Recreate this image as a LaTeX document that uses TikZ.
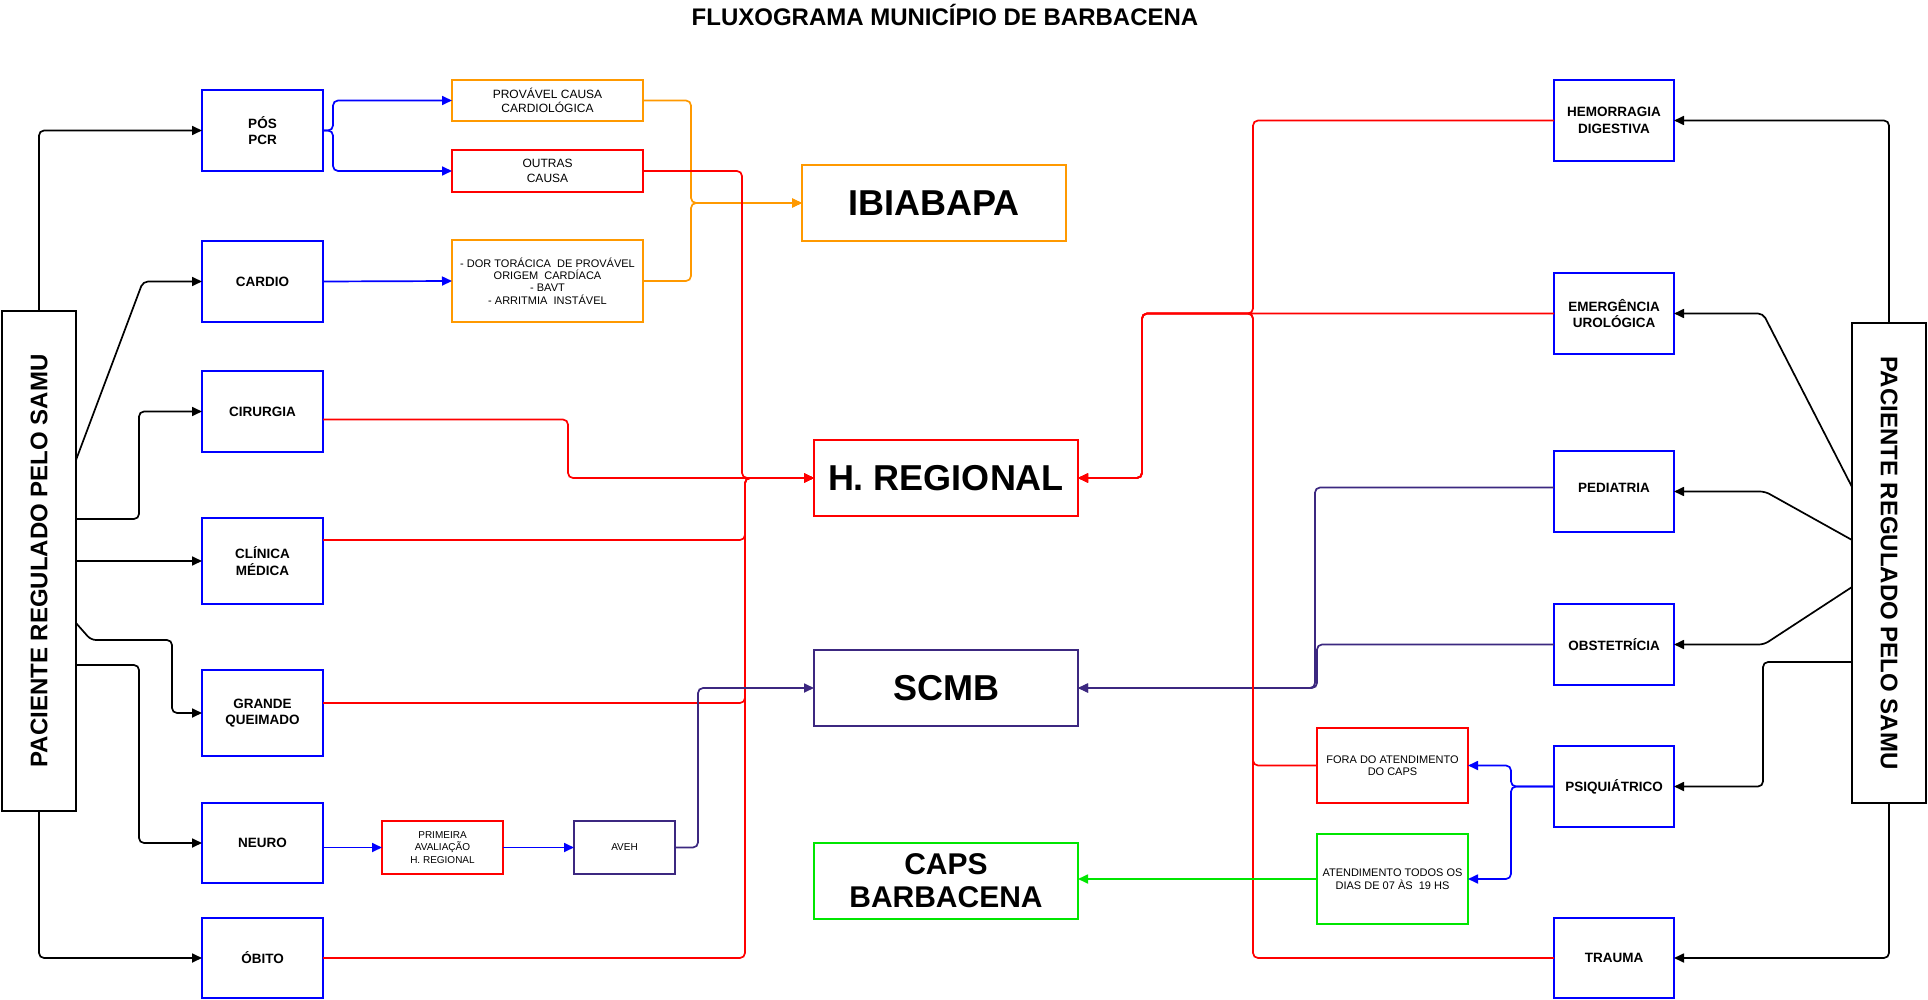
\documentclass[tikz,border=0pt]{standalone}
\usepackage{fontspec}
\usepackage{graphicx}
\setmainfont{Liberation Sans}
\usetikzlibrary{arrows.meta,calc}
\definecolor{cblue}{RGB}{0,0,255}
\definecolor{cred}{RGB}{255,0,0}
\definecolor{corange}{RGB}{255,153,0}
\definecolor{cgreen}{RGB}{0,230,0}
\definecolor{cpurple}{RGB}{60,40,128}
\begin{document}
\begin{tikzpicture}[x=1pt,y=-1pt,
  box/.style={draw,line width=2pt,inner sep=0pt,outer sep=0pt,align=center,text=black},
  bbox/.style={box,draw=cblue,font=\fontsize{13.5}{16.5}\selectfont\bfseries},
  sbox/.style={box,font=\fontsize{12}{14.5}\selectfont},
  tbox/.style={box,font=\fontsize{10}{12.2}\selectfont},
  bigbox/.style={box,minimum width=264pt,minimum height=76pt,font=\fontsize{36}{37}\selectfont\bfseries},
  samubox/.style={box,draw=black,line width=2.5pt,font=\fontsize{24}{28}\selectfont\bfseries},
  conn/.style={line width=1.7pt,rounded corners=5pt,-{Triangle[length=10pt,width=9pt]}},
  blk/.style={conn,draw=black},
  blu/.style={conn,draw=cblue},
  rd/.style={conn,draw=cred},
  org/.style={conn,draw=corange},
  pur/.style={conn,draw=cpurple},
  grn/.style={conn,draw=cgreen}
]
\useasboundingbox (0,0) rectangle (1928,1000);

\node[font=\fontsize{24}{28}\selectfont\bfseries] (title) at (945,15) {FLUXOGRAMA MUNICÍPIO DE BARBACENA};

% left SAMU
\node[samubox,minimum width=74pt,minimum height=500pt] (samuL) at (39,561) {\rotatebox{90}{PACIENTE REGULADO PELO SAMU}};

% left blue column
\node[bbox,minimum width=121pt,minimum height=81pt] (pos) at (262.5,130.5) {PÓS\\PCR};
\node[bbox,minimum width=121pt,minimum height=81pt] (cardio) at (262.5,281.5) {CARDIO};
\node[bbox,minimum width=121pt,minimum height=81pt] (cirurgia) at (262.5,411.5) {CIRURGIA};
\node[bbox,minimum width=121pt,minimum height=86pt] (clinica) at (262.5,561) {CLÍNICA\\MÉDICA};
\node[bbox,minimum width=121pt,minimum height=86pt] (grande) at (262.5,713) {GRANDE\\QUEIMADO};
\node[bbox,minimum width=121pt,minimum height=80pt] (neuro) at (262.5,843) {NEURO};
\node[bbox,minimum width=121pt,minimum height=80pt] (obito) at (262.5,958) {ÓBITO};

% small boxes
\node[sbox,draw=corange,minimum width=191pt,minimum height=41pt] (provavel) at (547.5,100.5) {PROVÁVEL CAUSA\\CARDIOLÓGICA};
\node[sbox,draw=cred,minimum width=191pt,minimum height=42pt] (outras) at (547.5,171) {OUTRAS\\CAUSA};
\node[box,font=\fontsize{11}{12.2}\selectfont,draw=corange,minimum width=191pt,minimum height=82pt] (dor) at (547.5,281) {- DOR TORÁCICA\ \ DE PROVÁVEL\\ORIGEM\ \ CARDÍACA\\- BAVT\\- ARRITMIA\ \ INSTÁVEL};
\node[tbox,draw=cred,minimum width=121pt,minimum height=53pt] (primeira) at (442.5,847.5) {PRIMEIRA\\AVALIAÇÃO\\H. REGIONAL};
\node[tbox,draw=cpurple,minimum width=101pt,minimum height=53pt] (aveh) at (624.5,847.5) {AVEH};

% central boxes
\node[bigbox,draw=corange] (ibia) at (934,203) {IBIABAPA};
\node[bigbox,draw=cred] (hreg) at (946,478) {H. REGIONAL};
\node[bigbox,draw=cpurple] (scmb) at (946,688) {SCMB};
\node[bigbox,draw=cgreen,font=\fontsize{30}{33}\selectfont\bfseries] (caps) at (946,881) {CAPS\\BARBACENA};

% right blue column
\node[bbox,minimum width=120pt,minimum height=81pt] (hemo) at (1614,120.5) {HEMORRAGIA\\DIGESTIVA};
\node[bbox,minimum width=120pt,minimum height=81pt] (emerg) at (1614,313.5) {EMERGÊNCIA\\UROLÓGICA};
\node[bbox,minimum width=120pt,minimum height=81pt] (pedia) at (1614,491.5) {\raisebox{8pt}{PEDIATRIA}};
\node[bbox,minimum width=120pt,minimum height=81pt] (obst) at (1614,644.5) {OBSTETRÍCIA};
\node[bbox,minimum width=120pt,minimum height=81pt] (psiq) at (1614,786.5) {PSIQUIÁTRICO};
\node[bbox,minimum width=120pt,minimum height=80pt] (trauma) at (1614,958) {TRAUMA};

% right small boxes
\node[box,draw=cred,font=\fontsize{11}{12.5}\selectfont,minimum width=151pt,minimum height=75pt] (fora) at (1392.5,765.5) {FORA DO ATENDIMENTO\\DO CAPS};
\node[box,draw=cgreen,font=\fontsize{11}{12.5}\selectfont,minimum width=151pt,minimum height=90pt] (atend) at (1392.5,879) {ATENDIMENTO TODOS OS\\DIAS DE 07 ÀS\ \ 19 HS};

% right SAMU
\node[samubox,minimum width=74pt,minimum height=480pt] (samuR) at (1889,563) {\rotatebox{-90}{PACIENTE REGULADO PELO SAMU}};

% ---- left SAMU connectors
\draw[blk] (samuL.north) |- (pos.west);
\draw[blk] ([yshift=-149pt]samuL.north east) -- ([xshift=-59pt]cardio.west) -- (cardio.west);
\draw[blk] ([yshift=-208pt]samuL.north east) -- ++(63,0) |- (cirurgia.west);
\draw[blk] (samuL.east) -- (clinica.west);
\draw[blk] ([yshift=-312pt]samuL.north east) -- ++(15,17) -- ++(81,0) |- (grande.west);
\draw[blk] ([yshift=-354pt]samuL.north east) -- ++(63,0) |- (neuro.west);
\draw[blk] (samuL.south) |- (obito.west);

% ---- blue
\draw[blu] (pos.east) -- ++(10,0) |- (provavel.west);
\draw[blu] (pos.east) -- ++(10,0) |- (outras.west);
\draw[blu] (cardio.east) -- (dor.west);
\draw[blu] (neuro.east |- primeira.west) -- (primeira.west);
\draw[blu] (primeira.east) -- (aveh.west);

% ---- orange
\draw[org] (provavel.east) -| ([xshift=-111pt]ibia.west) -- (ibia.west);
\draw[org] (dor.east) -| ([xshift=-111pt]ibia.west) -- (ibia.west);

% ---- red left
\draw[rd] (outras.east) -| ([xshift=-72pt]hreg.west) -- (hreg.west);
\draw[rd] ([yshift=-8pt]cirurgia.east) -| ([xshift=-246pt]hreg.west) -- (hreg.west);
\draw[rd] ([yshift=21pt]clinica.east) -| ([xshift=-69pt]hreg.west) -- (hreg.west);
\draw[rd] ([yshift=10pt]grande.east) -| ([xshift=-69pt]hreg.west) -- (hreg.west);
\draw[rd] (obito.east) -| ([xshift=-69pt]hreg.west) -- (hreg.west);

% ---- purple
\draw[pur] (aveh.east) -| ([xshift=-116pt]scmb.west) -- (scmb.west);
\draw[pur] ([yshift=4pt]pedia.west) -| ([xshift=237pt]scmb.east) -- (scmb.east);
\draw[pur] (obst.west) -| ([xshift=239pt]scmb.east) -- (scmb.east);

% ---- red right
\coordinate (rj) at (1253,313.5);
\draw[rd] (hemo.west) -| (rj) -| ([xshift=64pt]hreg.east) -- (hreg.east);
\draw[rd] (emerg.west) -| ([xshift=64pt]hreg.east) -- (hreg.east);
\draw[rd] (fora.west) -| (rj) -| ([xshift=64pt]hreg.east) -- (hreg.east);
\draw[rd] (trauma.west) -| (rj) -| ([xshift=64pt]hreg.east) -- (hreg.east);

% ---- green
\draw[grn] (atend.west) -- (caps.east |- atend.west);

% ---- blue right
\draw[blu] (psiq.west) -| ([xshift=43pt]fora.east) -- (fora.east);
\draw[blu] (psiq.west) -| ([xshift=43pt]atend.east) -- (atend.east);

% ---- right SAMU connectors
\draw[blk] (samuR.north) |- (hemo.east);
\draw[blk] ([yshift=-164pt]samuR.north west) -- ([xshift=89pt]emerg.east) -- (emerg.east);
\draw[blk] ([yshift=-217pt]samuR.north west) -- ([xshift=91pt]pedia.east) -- (pedia.east);
\draw[blk] ([yshift=-264pt]samuR.north west) -- ([xshift=90pt]obst.east) -- (obst.east);
\draw[blk] ([yshift=-339pt]samuR.north west) -| ([xshift=89pt]psiq.east) -- (psiq.east);
\draw[blk] (samuR.south) |- (trauma.east);
\end{tikzpicture}
\end{document}
